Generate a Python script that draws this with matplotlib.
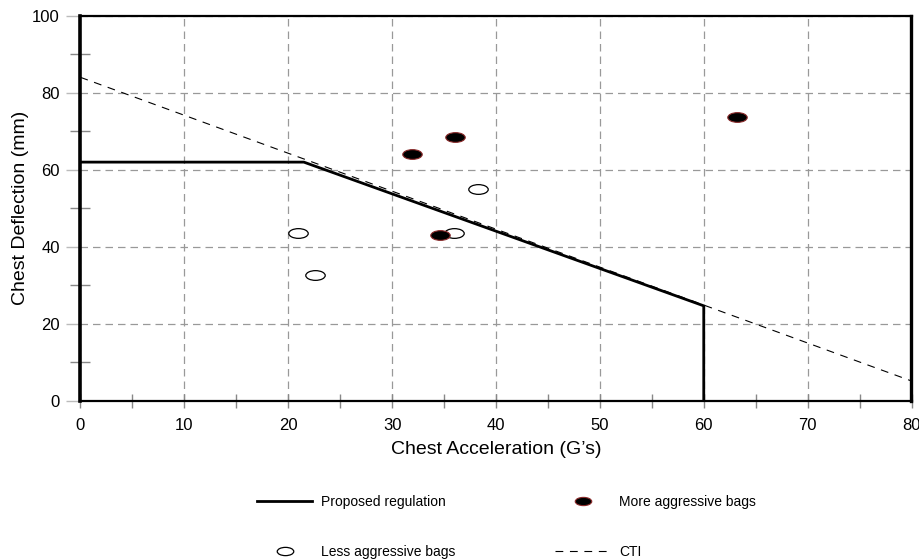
import numpy as np
import matplotlib
matplotlib.use("Agg")
import matplotlib.pyplot as plt
from matplotlib.path import Path
from matplotlib.ticker import MultipleLocator

plt.rcParams['font.family'] = ['Liberation Sans', 'DejaVu Sans']

# proposed regulation corridor
reg_x = [0, 21.5, 60, 60]
reg_y = [62, 62, 24.7, 0]

# CTI line
cti_x = [0, 80]
cti_y = [84, 5.2]

# more aggressive bags
more_x = [31.9, 36.1, 34.6, 63.2]
more_y = [64.1, 68.6, 43.2, 73.7]

# less aggressive bags
less_x = [20.9, 22.6, 36.0, 38.3]
less_y = [43.6, 32.8, 43.6, 55.0]

# flat ellipse marker
circ = Path.unit_circle()
ellipse = Path(circ.vertices * np.array([1.0, 0.5]), circ.codes)

fig = plt.figure(figsize=(9.2, 5.6), dpi=100)
ax = fig.add_axes([80.5 / 920, 1 - 401 / 560, 831 / 920, 385.3 / 560])

ax.plot(cti_x, cti_y, color='black', lw=0.8, linestyle=(0, (7, 6)), label='CTI', zorder=3)
ax.plot(reg_x, reg_y, color='black', lw=2.0, label='Proposed regulation', zorder=4,
        solid_joinstyle='miter')
ax.plot(less_x, less_y, linestyle='none', marker=ellipse, markersize=14,
        markerfacecolor='white', markeredgecolor='black', markeredgewidth=0.9,
        label='Less aggressive bags', zorder=5)
ax.plot(more_x, more_y, linestyle='none', marker=ellipse, markersize=14,
        markerfacecolor='black', markeredgecolor='#8a2a2a', markeredgewidth=0.8,
        label='More aggressive bags', zorder=6)

ax.set_xlim(0, 80)
ax.set_ylim(0, 100)
ax.xaxis.set_major_locator(MultipleLocator(10))
ax.xaxis.set_minor_locator(MultipleLocator(5))
ax.yaxis.set_major_locator(MultipleLocator(20))
ax.yaxis.set_minor_locator(MultipleLocator(10))

ax.grid(True, which='major', color='#999999', lw=0.9, linestyle=(0, (6, 4)))
ax.set_axisbelow(True)

ax.tick_params(axis='x', which='both', direction='inout', length=10, width=1,
               color='#888888', labelsize=12, pad=7)
ax.tick_params(axis='y', which='major', direction='out', length=10, width=1,
               color='#bbbbbb', labelsize=12, pad=5)
ax.tick_params(axis='y', which='minor', direction='inout', length=14, width=1,
               color='#888888')

ax.spines['left'].set_linewidth(2.6)
ax.spines['right'].set_linewidth(2.4)
ax.spines['top'].set_linewidth(1.6)
ax.spines['bottom'].set_linewidth(1.6)

ax.set_xlabel("Chest Acceleration (G\u2019s)", fontsize=14, labelpad=6)
ax.set_ylabel("Chest Deflection (mm)", fontsize=14, labelpad=2)

h, l = ax.get_legend_handles_labels()
order = [1, 2, 3, 0]
fig.legend([h[i] for i in order], [l[i] for i in order], ncol=2,
           loc='upper left', bbox_to_anchor=(250 / 920, 1 - 488 / 560),
           frameon=False, fontsize=10, handlelength=4.0, handletextpad=0.6,
           columnspacing=7.2, labelspacing=2.6, markerscale=0.85, borderpad=0)

fig.savefig('out.png', dpi=100)
